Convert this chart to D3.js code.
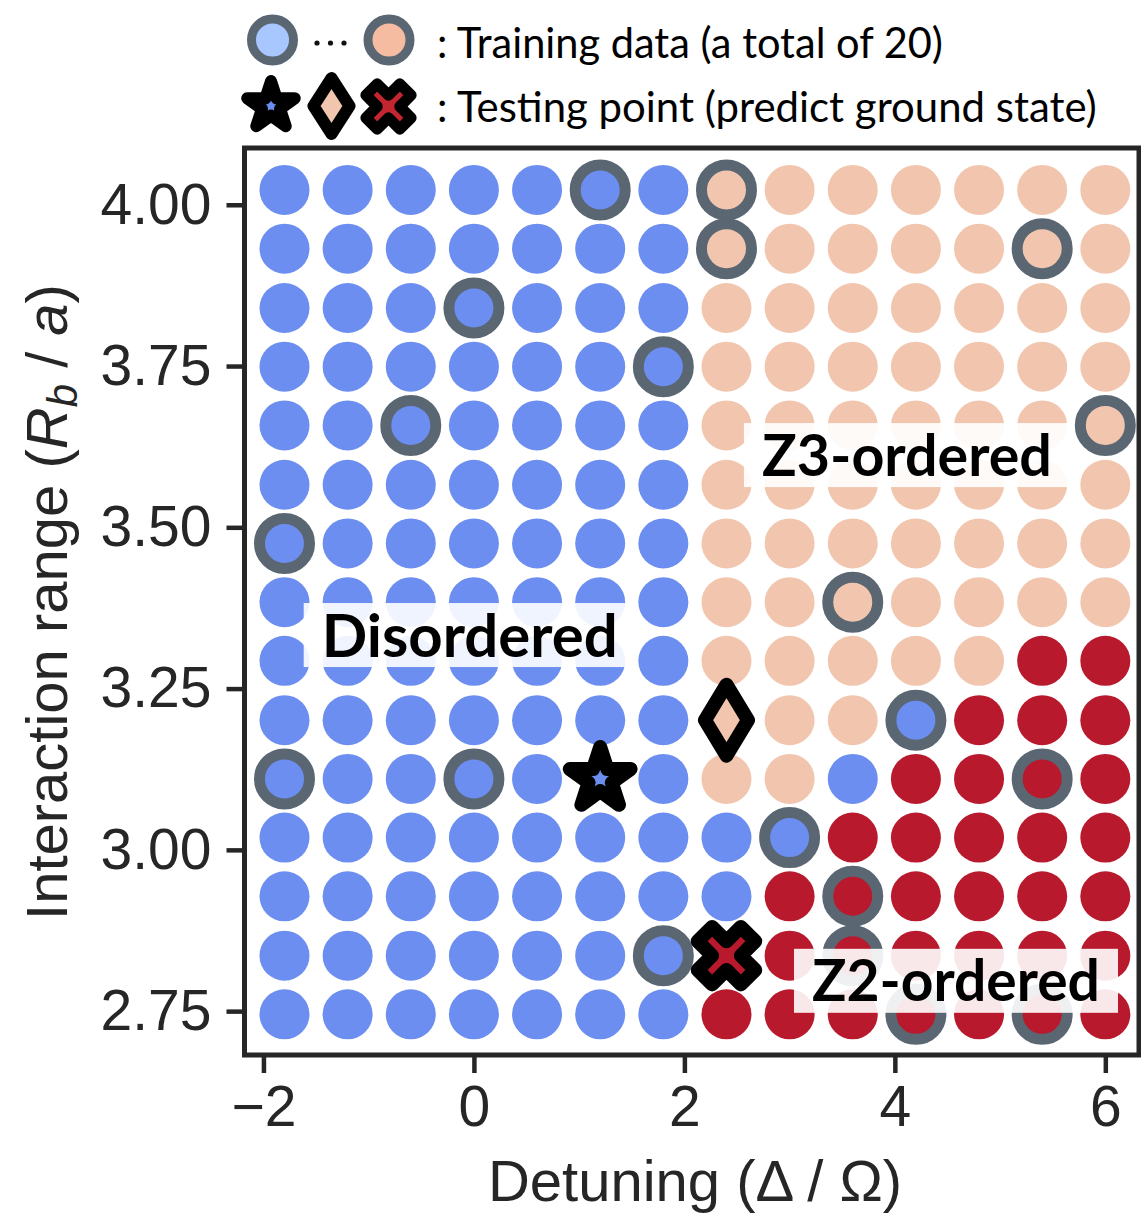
<!DOCTYPE html>
<html>
<head>
<meta charset="utf-8">
<script src="https://cdn.jsdelivr.net/npm/d3@7"></script>
<style>
  body { margin: 0; background: #fff; }
</style>
</head>
<body>
<svg id="chart" width="1141" height="1214"></svg>
<script>
// grid columns: detuning (Δ/Ω)
const detuning = [-1.8, -1.2, -0.6, 0, 0.6, 1.2, 1.8, 2.4, 3.0, 3.6, 4.2, 4.8, 5.4, 6.0];
// grid rows: interaction range (Rb/a), top to bottom
const interRange = [4.023, 3.932, 3.840, 3.749, 3.658, 3.566, 3.475, 3.384, 3.293, 3.201, 3.110, 3.019, 2.928, 2.836, 2.745];
// predicted phase per cell, D = disordered, 3 = Z3, 2 = Z2, . = no circle (testing point there)
const phaseRows = [
  "DDDDDDD3333333",
  "DDDDDDD3333333",
  "DDDDDDD3333333",
  "DDDDDDD3333333",
  "DDDDDDD3333333",
  "DDDDDDD3333333",
  "DDDDDDD3333333",
  "DDDDDDD3333333",
  "DDDDDDD3333322",
  "DDDDDDD.33D222",
  "DDDDD.D33D2222",
  "DDDDDDDDD22222",
  "DDDDDDDD222222",
  "DDDDDDD.222222",
  "DDDDDDD2222222"
];

// training points (20)
const trainDetuning = [1.2, 2.4, 2.4, 5.4, 0, 1.8, -0.6, 6.0, -1.8, 3.6, 4.2, -1.8, 0, 5.4, 3.0, 3.6, 1.8, 3.6, 4.2, 5.4];
const trainRange = [4.023, 4.023, 3.932, 3.932, 3.840, 3.749, 3.658, 3.658, 3.475, 3.384, 3.201, 3.110, 3.110, 3.110, 3.019, 2.928, 2.836, 2.836, 2.745, 2.745];

// testing points
const testDetuning = [1.2, 2.4, 2.4];
const testRange = [3.110, 3.201, 2.836];
const testPhase = ["D", "3", "2"];
const testShape = ["star", "diamond", "cross"];

// phase annotations
const labelText = ["Disordered", "Z3-ordered", "Z2-ordered"];
const labelDetuning = [-0.04, 4.115, 4.581];
const labelRange = [3.333, 3.612, 2.797];
const labelWidth = [296, 290, 288];

const xTicks = [-2, 0, 2, 4, 6];
const yTicks = [2.75, 3.00, 3.25, 3.50, 3.75, 4.00];

const phaseColor = { D: "#6c8ef0", "3": "#f2c6ae", "2": "#b8192d" };
const ringColor = "#5a6773";
const axisColor = "#262626";

const svg = d3.select("#chart");

const plotLeft = 244.5, plotRight = 1139, plotTop = 148, plotBottom = 1055;

const x = d3.scaleLinear().domain([-2.18, 6.32]).range([plotLeft, plotRight]);
const y = d3.scaleLinear().domain([2.682, 4.088]).range([plotBottom, plotTop]);

// flatten grid
const cells = [];
phaseRows.forEach((row, i) => {
  row.split("").forEach((p, j) => {
    if (p !== ".") cells.push({ dx: detuning[j], ry: interRange[i], phase: p });
  });
});

const phaseAt = (dx, ry) => {
  const i = interRange.indexOf(ry);
  const j = detuning.indexOf(dx);
  return phaseRows[i][j];
};

const plot = svg.append("g");

plot.selectAll(".cell")
  .data(cells)
  .enter()
  .append("circle")
  .attr("class", "cell")
  .attr("cx", d => x(d.dx))
  .attr("cy", d => y(d.ry))
  .attr("r", 25)
  .attr("fill", d => phaseColor[d.phase]);

// training rings
plot.selectAll(".train")
  .data(trainDetuning.map((d, i) => ({ dx: d, ry: trainRange[i] })))
  .enter()
  .append("circle")
  .attr("class", "train")
  .attr("cx", d => x(d.dx))
  .attr("cy", d => y(d.ry))
  .attr("r", 25)
  .attr("fill", d => phaseColor[phaseAt(d.dx, d.ry)])
  .attr("stroke", ringColor)
  .attr("stroke-width", 11);

// marker paths
function diamondPath(a, b) {
  return `M0,${-b}L${a},0L0,${b}L${-a},0Z`;
}
function crossPath(s) {
  // matplotlib filled "X": plus shape rotated 45deg
  const pts = [[-1, -3], [1, -3], [1, -1], [3, -1], [3, 1], [1, 1], [1, 3], [-1, 3], [-1, 1], [-3, 1], [-3, -1], [-1, -1]];
  const c = Math.SQRT1_2;
  return "M" + pts.map(([px, py]) => {
    const u = (px - py) * c * s / 6, v = (px + py) * c * s / 6;
    return u.toFixed(2) + "," + v.toFixed(2);
  }).join("L") + "Z";
}
function starPath(R) {
  return d3.symbol(d3.symbolStar, R * R / 0.8908130915292852)();
}

const markerPath = {
  star: () => starPath(32),
  diamond: () => diamondPath(21.5, 35.5),
  cross: () => crossPath(61)
};

plot.selectAll(".test")
  .data(testDetuning.map((d, i) => ({ dx: d, ry: testRange[i], phase: testPhase[i], shape: testShape[i] })))
  .enter()
  .append("path")
  .attr("class", "test")
  .attr("transform", d => `translate(${x(d.dx)},${y(d.ry)})`)
  .attr("d", d => markerPath[d.shape]())
  .attr("fill", d => phaseColor[d.phase])
  .attr("stroke", "#000")
  .attr("stroke-width", 14)
  .attr("stroke-linejoin", "round");

// phase labels with semi-transparent boxes
function fitText(sel, target) {
  const fs = parseFloat(sel.attr("font-size"));
  const len = sel.node().getComputedTextLength();
  sel.attr("font-size", fs * target / len);
}

labelText.forEach((t, i) => {
  const g = plot.append("g");
  const cx = x(labelDetuning[i]), cy = y(labelRange[i]);
  const rect = g.append("rect");
  const txt = g.append("text")
    .attr("x", cx)
    .attr("text-anchor", "middle")
    .attr("font-family", "Lato, 'Noto Sans', sans-serif")
    .attr("font-weight", 700)
    .attr("font-size", 55)
    .attr("fill", "#000")
    .text(t);
  fitText(txt, labelWidth[i]);
  const fs = parseFloat(txt.attr("font-size"));
  txt.attr("y", cy + fs * 0.36);
  rect.attr("x", cx - labelWidth[i] / 2 - 18)
    .attr("y", cy - 32)
    .attr("width", labelWidth[i] + 36)
    .attr("height", 64)
    .attr("fill", "#fff")
    .attr("fill-opacity", 0.9);
});

// axes
const xAxis = svg.append("g")
  .attr("transform", `translate(0,${plotBottom})`)
  .call(d3.axisBottom(x).tickValues(xTicks).tickSize(18).tickPadding(13));
const yAxis = svg.append("g")
  .attr("transform", `translate(${plotLeft},0)`)
  .call(d3.axisLeft(y).tickValues(yTicks).tickSize(18).tickPadding(15).tickFormat(d3.format(".2f")));

[xAxis, yAxis].forEach(a => {
  a.select(".domain").remove();
  a.selectAll(".tick line").attr("stroke", axisColor).attr("stroke-width", 4.5);
  a.selectAll(".tick text")
    .attr("fill", axisColor)
    .attr("font-family", "'Liberation Sans', Arial, sans-serif")
    .attr("font-size", 57);
});

// frame
svg.append("rect")
  .attr("x", plotLeft)
  .attr("y", plotTop)
  .attr("width", plotRight - plotLeft)
  .attr("height", plotBottom - plotTop)
  .attr("fill", "none")
  .attr("stroke", axisColor)
  .attr("stroke-width", 5);

// axis titles
svg.append("text")
  .attr("x", 695)
  .attr("y", 1201)
  .attr("text-anchor", "middle")
  .attr("font-family", "'Liberation Sans', Arial, sans-serif")
  .attr("font-size", 58)
  .attr("fill", axisColor)
  .text("Detuning (Δ / Ω)");

const yTitle = svg.append("text")
  .attr("transform", "translate(67,602) rotate(-90)")
  .attr("text-anchor", "middle")
  .attr("font-family", "'Liberation Sans', Arial, sans-serif")
  .attr("font-size", 58)
  .attr("fill", axisColor);
yTitle.append("tspan").text("Interaction range (");
yTitle.append("tspan").attr("font-style", "italic").text("R");
yTitle.append("tspan").attr("font-style", "italic").attr("font-size", 42).attr("dy", 10).text("b");
yTitle.append("tspan").attr("dy", -10).text(" / ");
yTitle.append("tspan").attr("font-style", "italic").text("a");
yTitle.append("tspan").text(")");

// legend
const legend = svg.append("g");
const legendFill = ["#a9c7ff", "#f5bca1"];
legend.selectAll(".lg-circle")
  .data(legendFill)
  .enter()
  .append("circle")
  .attr("cx", (d, i) => [272.5, 389][i])
  .attr("cy", 40)
  .attr("r", 21)
  .attr("fill", d => d)
  .attr("stroke", ringColor)
  .attr("stroke-width", 9);
legend.selectAll(".lg-dot")
  .data([317, 330.5, 344])
  .enter()
  .append("circle")
  .attr("cx", d => d)
  .attr("cy", 43)
  .attr("r", 2.6)
  .attr("fill", "#111");

const legendMarkers = [
  { cx: 271, cy: 106, d: starPath(25), fill: phaseColor.D, w: 12 },
  { cx: 331.5, cy: 106, d: diamondPath(18, 28), fill: phaseColor["3"], w: 12 },
  { cx: 388.5, cy: 106.5, d: crossPath(48), fill: "#c3262e", w: 11 }
];
legend.selectAll(".lg-marker")
  .data(legendMarkers)
  .enter()
  .append("path")
  .attr("transform", d => `translate(${d.cx},${d.cy})`)
  .attr("d", d => d.d)
  .attr("fill", d => d.fill)
  .attr("stroke", "#000")
  .attr("stroke-width", d => d.w)
  .attr("stroke-linejoin", "round");

const legendText = [": Training data (a total of 20)", ": Testing point (predict ground state)"];
const legendWidth = [506, 660];
legendText.forEach((t, i) => {
  const txt = legend.append("text")
    .attr("x", 437)
    .attr("y", [58, 122][i])
    .attr("font-family", "Lato, 'Open Sans', sans-serif")
    .attr("font-size", 35)
    .attr("fill", "#000")
    .text(t);
  fitText(txt, legendWidth[i]);
});
</script>
</body>
</html>
